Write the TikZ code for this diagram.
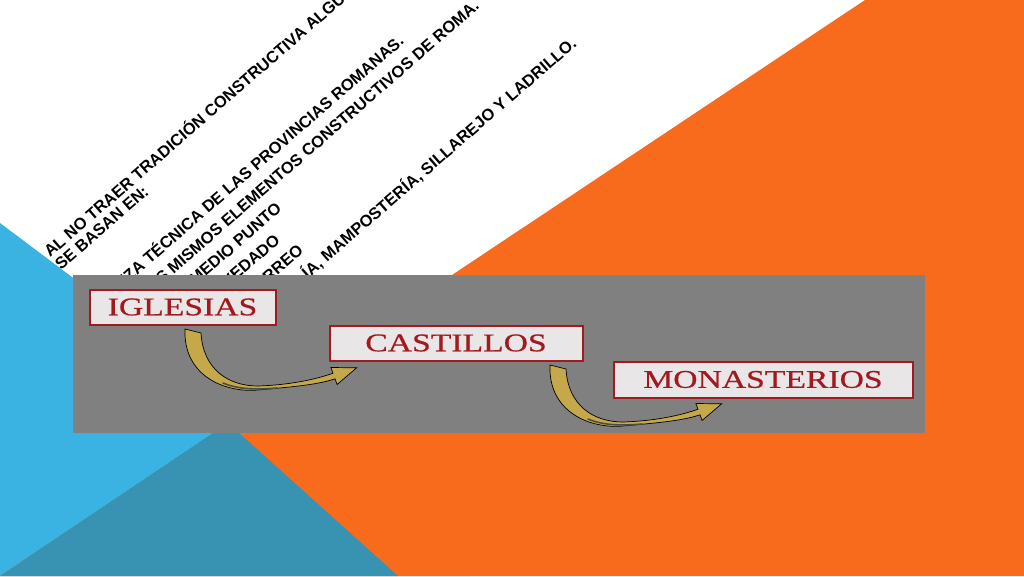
\documentclass[tikz,border=0pt]{standalone}
\usepackage{fontspec}
\usetikzlibrary{calc}
\newfontfamily\slidefont{Liberation Sans}
\newfontfamily\stagefont[FakeStretch=1.32, FakeBold=0.6]{Liberation Serif}
\definecolor{slideOrange}{RGB}{248,107,29}
\definecolor{slideBlue}{RGB}{58,178,226}
\definecolor{slideTeal}{RGB}{56,146,178}
\definecolor{panelGray}{RGB}{128,128,128}
\definecolor{stageRed}{RGB}{163,25,32}
\definecolor{stageFill}{RGB}{232,230,230}
\definecolor{arrowGold}{RGB}{196,168,74}

\newcommand{\goldarrow}[1]{%
  \begin{scope}[shift={#1}]
    \filldraw[fill=arrowGold, draw=black, line width=0.7]
      (0,0) .. controls (-2,47) and (40,64) .. (73,61)
      .. controls (105,58) and (132,56) .. (150,49.8)
      -- (152.1,55.5) -- (171.6,38.8) -- (145.9,38.5) -- (148,44.2)
      .. controls (129,51) and (103,56) .. (73,57)
      .. controls (43,57) and (18,40) .. (16,4) -- cycle;
    \draw[black!70, line width=1.6, line cap=round] (38,54) .. controls (52,60) and (70,61) .. (92,59);
  \end{scope}}

\begin{document}
\begin{tikzpicture}[x=1pt, y=-1pt,
    txt/.style={inner sep=0, anchor=base west, font=\slidefont\bfseries\fontsize{16.4}{18}\selectfont},
    stage/.style={draw=stageRed, line width=2, fill=stageFill, text=stageRed, inner sep=0,
      font=\stagefont\fontsize{25.5}{28}\selectfont}]
    \useasboundingbox (0,0) rectangle (1024,576);
    \fill[white] (0,0) rectangle (1024,576);

    % background triangles
    \fill[slideBlue] (0,223) -- (470,576) -- (0,576) -- cycle;
    \fill[slideOrange] (865,0) -- (1024,0) -- (1024,576) -- (0,576) -- cycle;
    \fill[slideTeal] (0,576) -- (228,423) -- (398,576) -- cycle;

    % slanted text
    \begin{scope}[shift={(50,258)}, rotate=41, x=1pt, y=1pt, transform shape]
        \node[txt] (intro) at (0,0) {AL NO TRAER TRADICIÓN CONSTRUCTIVA ALGU};
        \node[txt] (basan) at (0,-16.8) {SE BASAN EN:};
        \node[txt, anchor=base east] (tecnica) at (409,-70.4) {EZA TÉCNICA DE LAS PROVINCIAS ROMANAS.};
        \node[txt, anchor=base east] (mismos) at (489,-93.4) {OS MISMOS ELEMENTOS CONSTRUCTIVOS DE ROMA.};
        \node[txt, anchor=base east] (punto) at (207,-116.4) {MEDIO PUNTO};
        \node[txt, anchor=base east] (vedado) at (185,-139.4) {VEDADO};
        \node[txt, anchor=base east] (rreo) at (196,-162.4) {RREO};
        \node[txt, anchor=base east] (ladrillo) at (538,-185.4) {ÍA, MAMPOSTERÍA, SILLAREJO Y LADRILLO.};
    \end{scope}

    % panel
    \fill[panelGray] (73,275) rectangle (925,433);
    \node[stage, minimum width=186, minimum height=35] (iglesias) at (182.5,307) {IGLESIAS};
    \node[stage, minimum width=253, minimum height=35] (castillos) at (456,343) {CASTILLOS};
    \node[stage, minimum width=299, minimum height=36] (monasterios) at (763,379.5) {MONASTERIOS};

    \goldarrow{($(iglesias.south)+(2.5,3.5)$)}
    \goldarrow{($(castillos.south)+(94,3.5)$)}
\end{tikzpicture}
\end{document}
